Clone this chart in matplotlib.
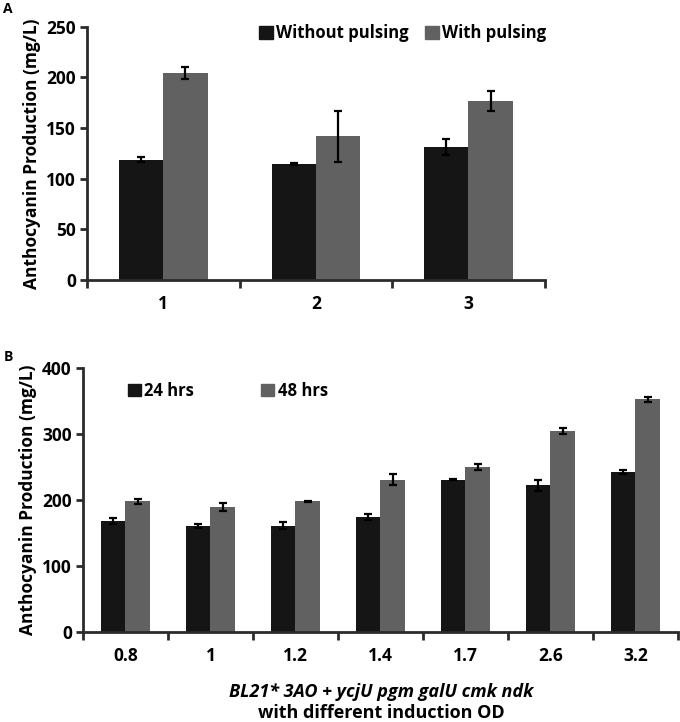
import matplotlib
matplotlib.use("Agg")
import matplotlib.pyplot as plt
import numpy as np
from matplotlib.patches import Patch

plt.rcParams['font.family'] = ['Open Sans', 'DejaVu Sans']
plt.rcParams['font.weight'] = 'bold'

# Panel A data
cats_a = ["1", "2", "3"]
without_pulsing = [119, 115, 131]
without_err = [2, 1, 8]
with_pulsing = [204, 142, 177]
with_err = [6, 25, 10]

# Panel B data
cats_b = ["0.8", "1", "1.2", "1.4", "1.7", "2.6", "3.2"]
h24 = [168, 161, 161, 174, 231, 222, 242]
h24_err = [5, 3, 5, 5, 1, 9, 3]
h48 = [198, 189, 198, 231, 250, 305, 353]
h48_err = [4, 6, 1, 9, 4, 5, 4]

BLACK = "#151515"
GRAY = "#616161"
AX = "#2b2b2b"

fig = plt.figure(figsize=(6.8, 7.22), dpi=100)

def style(ax, n):
    for s in ["top", "right"]:
        ax.spines[s].set_visible(False)
    for s in ["left", "bottom"]:
        ax.spines[s].set_linewidth(2)
        ax.spines[s].set_color(AX)
    ax.set_xlim(0, n)
    ax.set_xticks(np.arange(n + 1))
    ax.set_xticklabels([])
    ax.set_xticks(np.arange(n) + 0.5, minor=True)
    ax.tick_params(axis="x", which="major", length=6, width=2, color=AX, direction="out")
    ax.tick_params(axis="x", which="minor", length=0, labelsize=12.5, pad=11)
    ax.tick_params(axis="y", length=5, width=2, color=AX, labelsize=12.5, pad=3)

def draw(ax, cats, s1, e1, s2, e2):
    n = len(cats)
    x = np.arange(n) + 0.5
    w = 0.29
    ax.bar(x - w / 2, s1, w, color=BLACK, yerr=e1, error_kw=dict(ecolor="black", elinewidth=1.6, capsize=3, capthick=1.6))
    ax.bar(x + w / 2, s2, w, color=GRAY, yerr=e2, error_kw=dict(ecolor="black", elinewidth=1.6, capsize=3, capthick=1.6))
    ax.set_xticklabels(cats, minor=True)
    for t in ax.get_xticklabels(minor=True) + ax.get_yticklabels():
        t.set_fontweight("bold")

# Panel A
axA = fig.add_axes([0.128, 0.612, 0.673, 0.351])
style(axA, 3)
draw(axA, cats_a, without_pulsing, without_err, with_pulsing, with_err)
axA.set_ylim(0, 250)
axA.set_yticks([0, 50, 100, 150, 200, 250])
axA.set_ylabel("Anthocyanin Production (mg/L)", fontsize=12.5, fontweight="bold", labelpad=4)
axA.legend(handles=[Patch(color=BLACK, label="Without pulsing"), Patch(color=GRAY, label="With pulsing")],
           loc="upper center", bbox_to_anchor=(0.69, 1.07), ncol=2, frameon=False,
           prop=dict(size=12, weight="bold"),
           handlelength=0.8, handleheight=0.8, handletextpad=0.2, columnspacing=1.0)
fig.text(0.005, 0.988, "A", fontsize=10, fontweight="bold", va="center")

# Panel B
axB = fig.add_axes([0.122, 0.125, 0.875, 0.365])
style(axB, 7)
draw(axB, cats_b, h24, h24_err, h48, h48_err)
axB.set_ylim(0, 400)
axB.set_yticks([0, 100, 200, 300, 400])
axB.set_ylabel("Anthocyanin Production (mg/L)", fontsize=12.5, fontweight="bold", labelpad=4)
axB.legend(handles=[Patch(color=BLACK, label="24 hrs"), Patch(color=GRAY, label="48 hrs")],
           loc="upper left", bbox_to_anchor=(0.05, 1.005), ncol=2, frameon=False,
           prop=dict(size=12, weight="bold"),
           handlelength=0.8, handleheight=0.8, handletextpad=0.2, columnspacing=4.0)
fig.text(0.005, 0.505, "B", fontsize=10, fontweight="bold", va="center")
fig.text(0.561, 0.042, "BL21* 3AO + ycjU pgm galU cmk ndk", fontsize=13, fontweight="bold",
         style="italic", ha="center", va="center")
fig.text(0.561, 0.013, "with different induction OD", fontsize=13, fontweight="bold",
         ha="center", va="center")

fig.savefig("out.png", dpi=100)
